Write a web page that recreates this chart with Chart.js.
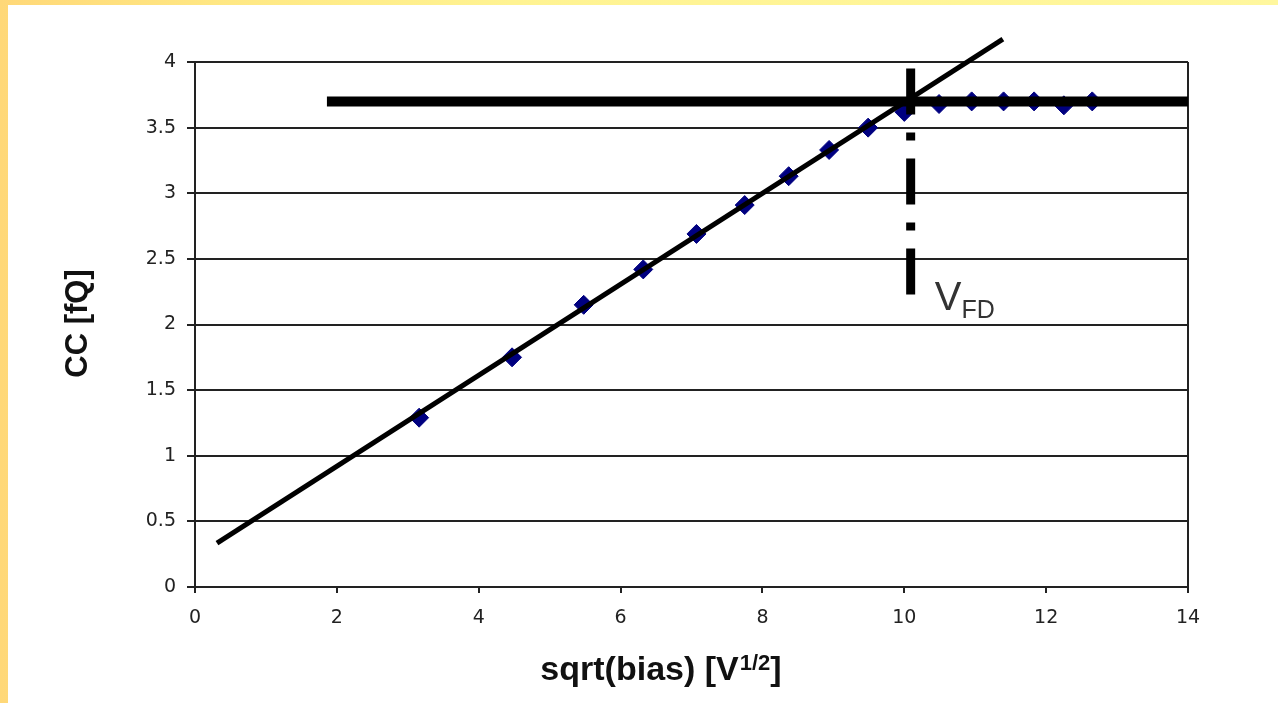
<!DOCTYPE html>
<html>
<head>
<meta charset="utf-8">
<title>CC vs sqrt(bias)</title>
<script src="https://cdn.jsdelivr.net/npm/chart.js@4.4.0/dist/chart.umd.min.js"></script>
<style>
  html, body { margin: 0; padding: 0; }
  body {
    width: 1278px;
    height: 703px;
    overflow: hidden;
    position: relative;
    background: linear-gradient(to right, #ffd878 0%, #ffe884 18%, #fff392 40%, #fff79e 100%);
  }
  #wrap {
    position: absolute;
    left: 8px;
    top: 5px;
    width: 1270px;
    height: 698px;
    background: #fff;
  }
</style>
</head>
<body>
<div id="wrap"><canvas id="chart"></canvas></div>
<script>
// measured points, bias from 10 V to 160 V in 10 V steps
const sqrtBias = [3.16, 4.47, 5.48, 6.32, 7.07, 7.75, 8.37, 8.94, 9.49, 10.0, 10.49, 10.95, 11.40, 11.83, 12.25, 12.65];
const ccCharge = [1.29, 1.75, 2.15, 2.42, 2.69, 2.91, 3.13, 3.33, 3.50, 3.62, 3.68, 3.70, 3.70, 3.70, 3.67, 3.70];

// straight line through the rising part
const fitX = [0.31, 11.39];
const fitY = [0.335, 4.175];

// plateau after full depletion
const plateauX = [1.86, 14];
const plateauY = [3.7, 3.7];

// V_FD marker where the two lines cross
const vfdX = [10.09, 10.09];
const vfdY = [3.95, 2.2];
const vfdLabelAt = { x: 10.43, y: 2.11 };

const xTicks = [0, 2, 4, 6, 8, 10, 12, 14];
const yTicks = [0, 0.5, 1, 1.5, 2, 2.5, 3, 3.5, 4];

const zip = (xs, ys) => xs.map((x, i) => ({ x: x, y: ys[i] }));

const tickFont = { family: '"DejaVu Sans", sans-serif', size: 19 };
const ink = '#222';

// axis titles and the V_FD label (superscript / subscript need manual drawing)
const labels = {
  id: 'labels',
  afterDraw(chart) {
    const { ctx, chartArea, scales } = chart;
    ctx.save();
    ctx.fillStyle = '#111';

    // y title
    ctx.save();
    ctx.translate(70, (chartArea.top + chartArea.bottom) / 2 - 1);
    ctx.rotate(-Math.PI / 2);
    ctx.font = 'bold 31px "Liberation Sans", Arial, sans-serif';
    ctx.textAlign = 'center';
    ctx.textBaseline = 'middle';
    ctx.fillText('CC [fQ]', 0, 0);
    ctx.restore();

    // x title with V^(1/2)
    const big = 'bold 34px "Liberation Sans", Arial, sans-serif';
    const sup = 'bold 22px "Liberation Sans", Arial, sans-serif';
    ctx.textBaseline = 'alphabetic';
    ctx.textAlign = 'left';
    ctx.font = big;
    const w1 = ctx.measureText('sqrt(bias) [V').width;
    const w3 = ctx.measureText(']').width;
    ctx.font = sup;
    const w2 = ctx.measureText('1/2').width;
    const total = w1 + 1 + w2 + w3;
    let tx = 653 - total / 2;
    const base = 675;
    ctx.font = big;
    ctx.fillText('sqrt(bias) [V', tx, base);
    tx += w1 + 1;
    ctx.font = sup;
    ctx.fillText('1/2', tx, base - 10);
    tx += w2;
    ctx.font = big;
    ctx.fillText(']', tx, base);

    // V_FD
    const lx = scales.x.getPixelForValue(vfdLabelAt.x);
    const ly = scales.y.getPixelForValue(vfdLabelAt.y);
    ctx.fillStyle = '#333';
    ctx.font = '40px "Liberation Sans", Arial, sans-serif';
    ctx.fillText('V', lx, ly);
    const vw = ctx.measureText('V').width;
    ctx.font = '25px "Liberation Sans", Arial, sans-serif';
    ctx.fillText('FD', lx + vw, ly + 8);

    ctx.restore();
  }
};

new Chart(document.getElementById('chart'), {
  type: 'scatter',
  data: {
    datasets: [
      {
        label: 'V_FD',
        data: zip(vfdX, vfdY),
        showLine: true,
        borderColor: '#000',
        borderWidth: 9,
        borderDash: [46, 18, 8, 18],
        pointRadius: 0,
        clip: false,
        order: 0
      },
      {
        label: 'plateau',
        data: zip(plateauX, plateauY),
        showLine: true,
        borderColor: '#000',
        borderWidth: 10,
        pointRadius: 0,
        clip: false,
        order: 1
      },
      {
        label: 'fit',
        data: zip(fitX, fitY),
        showLine: true,
        borderColor: '#000',
        borderWidth: 5,
        pointRadius: 0,
        clip: false,
        order: 2
      },
      {
        label: 'CC',
        data: zip(sqrtBias, ccCharge),
        pointStyle: 'rectRot',
        pointRadius: 9.5,
        backgroundColor: '#000080',
        borderColor: '#000080',
        borderWidth: 1,
        order: 4
      }
    ]
  },
  options: {
    responsive: true,
    maintainAspectRatio: false,
    animation: false,
    layout: { padding: { left: 0, right: 90, top: 57, bottom: 0 } },
    plugins: {
      legend: { display: false },
      tooltip: { enabled: false }
    },
    scales: {
      x: {
        type: 'linear',
        min: 0,
        max: 14,
        afterBuildTicks: s => { s.ticks = xTicks.map(v => ({ value: v })); },
        afterFit: s => { s.height = 116; },
        border: { color: ink, width: 2 },
        grid: {
          color: c => (c.tick && c.tick.value === 14 ? ink : 'rgba(0,0,0,0)'),
          lineWidth: 2,
          tickColor: ink,
          tickLength: 6
        },
        ticks: { color: ink, font: tickFont, padding: 14, maxRotation: 0, callback: v => String(v) }
      },
      y: {
        type: 'linear',
        min: 0,
        max: 4,
        afterBuildTicks: s => { s.ticks = yTicks.map(v => ({ value: v })); },
        afterFit: s => { s.width = 187; },
        border: { color: ink, width: 2 },
        grid: {
          color: ink,
          lineWidth: 2,
          tickColor: ink,
          tickLength: 8
        },
        ticks: { color: ink, font: tickFont, padding: 11, callback: v => String(v) }
      }
    }
  },
  plugins: [labels]
});
</script>
</body>
</html>
